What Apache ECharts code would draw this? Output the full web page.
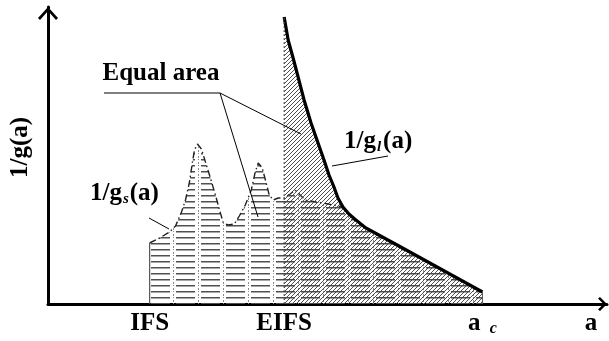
<!DOCTYPE html>
<html>
<head>
<meta charset="utf-8">
<script src="https://cdn.jsdelivr.net/npm/echarts@6/dist/echarts.min.js"></script>
<style>
  html, body { margin: 0; padding: 0; background: #fff; }
  #chart { width: 609px; height: 341px; }
</style>
</head>
<body>
<div id="chart"></div>
<script>
// crack size a (x) against 1/g(a) (y), arbitrary units
// short-crack curve 1/g_s(a), from IFS up to a_c
const smallCurve = [
  [102, 61], [112, 66], [122, 72], [128, 78], [134, 92], [138, 104], [142, 122],
  [145, 142], [147, 154], [150, 160], [154, 155], [158, 142], [163, 126], [168, 109],
  [173, 91], [176, 81], [181, 79], [187, 80], [192, 88], [198, 99], [204, 114],
  [208, 132], [211, 141], [215, 136], [219, 121], [222, 109], [226, 104], [231, 106],
  [237, 106], [243, 110], [248, 114], [253, 109], [258, 104], [269, 102], [281, 100],
  [296, 97], [302, 90], [309, 84], [319, 76], [354, 57], [436, 12]
];
// long-crack curve 1/g_l(a), from EIFS up to a_c
const largeCurve = [
  [237, 287], [241, 264], [246, 246], [251, 227], [257, 204], [264, 181], [271, 161],
  [277, 144], [282, 129], [287, 117], [291, 106], [296, 97], [302, 90], [309, 84],
  [319, 76], [354, 57], [436, 12]
];
const tickValues = [102, 237, 436, 545];
const tickLabels = ['IFS', 'EIFS', '{m|a} {c|c}', 'a'];

const FONT = '"Liberation Serif", "Times New Roman", serif';

function makeTile(w, h, draw) {
  const c = document.createElement('canvas');
  c.width = w;
  c.height = h;
  draw(c.getContext('2d'));
  return c;
}

// horizontal dashes with dash-dot verticals
const dashTile = makeTile(25, 6, (ctx) => {
  ctx.fillStyle = '#505050';
  ctx.fillRect(1, 3, 19, 1.5);
  ctx.fillStyle = '#8a8a8a';
  ctx.fillRect(23, 0, 1, 2);
  ctx.fillRect(23, 3, 1, 1);
});

// 45 degree hatching
const diagTile = makeTile(4, 4, (ctx) => {
  ctx.strokeStyle = '#3c3c3c';
  ctx.lineWidth = 0.9;
  ctx.beginPath();
  ctx.moveTo(-1, 5); ctx.lineTo(5, -1);
  ctx.moveTo(-1, 1); ctx.lineTo(1, -1);
  ctx.moveTo(3, 5); ctx.lineTo(5, 3);
  ctx.stroke();
});

const first = (arr) => arr[0];
const last = (arr) => arr[arr.length - 1];

const chart = echarts.init(document.getElementById('chart'));

const option = {
  animation: false,
  grid: { left: 46, right: 2, top: 7, bottom: 37 },
  xAxis: {
    type: 'value',
    min: 0,
    max: 561,
    splitLine: { show: false },
    axisTick: { show: false },
    axisLine: {
      show: true,
      lineStyle: { color: '#000', width: 3 },
      symbol: ['none', 'path://M0,7 L7,0 L14,7 L12.5,9 L7,3.5 L1.5,9 Z'],
      symbolSize: [14, 9],
      symbolOffset: [0, -4.5]
    },
    axisLabel: {
      customValues: tickValues,
      formatter: (v) => tickLabels[tickValues.indexOf(v)],
      color: '#000',
      fontFamily: FONT,
      fontSize: 25,
      fontWeight: 'bold',
      margin: 7,
      rich: {
        m: { fontFamily: FONT, fontSize: 25, fontWeight: 'bold', color: '#000' },
        c: {
          fontFamily: FONT, fontSize: 16, fontWeight: 'bold', fontStyle: 'italic',
          color: '#000', verticalAlign: 'bottom', padding: [10, 0, 0, 3]
        }
      }
    }
  },
  yAxis: {
    type: 'value',
    min: 0,
    max: 297,
    splitLine: { show: false },
    axisTick: { show: false },
    axisLabel: { show: false },
    axisLine: {
      show: true,
      lineStyle: { color: '#000', width: 3 },
      symbol: ['none', 'path://M0,11 L10,0 L20,11 L18,13 L10,4 L2,13 Z'],
      symbolSize: [20, 13],
      symbolOffset: [0, -6.5]
    },
    name: '1/g(a)',
    nameLocation: 'middle',
    nameRotate: 90,
    nameGap: 15,
    nameTextStyle: {
      color: '#000',
      fontFamily: FONT,
      fontSize: 25,
      fontWeight: 'bold',
      padding: [0, 0, 0, 16]
    }
  },
  series: [
    {
      name: '1/gs(a)',
      type: 'line',
      data: smallCurve,
      symbol: 'none',
      z: 2,
      lineStyle: { color: '#222', width: 1.4, type: [7, 3, 1.5, 3] },
      areaStyle: { color: { image: dashTile, repeat: 'repeat' }, opacity: 1 }
    },
    {
      name: '1/gl(a)',
      type: 'line',
      data: largeCurve,
      symbol: 'none',
      z: 3,
      lineStyle: { color: '#000', width: 3.2 },
      areaStyle: { color: { image: diagTile, repeat: 'repeat' }, opacity: 1 }
    },
    {
      name: 'IFS edge',
      type: 'line',
      data: [[first(smallCurve)[0], 0], first(smallCurve)],
      symbol: 'none',
      z: 4,
      lineStyle: { color: '#555', width: 1.2 }
    },
    {
      name: 'EIFS edge',
      type: 'line',
      data: [[first(largeCurve)[0], 0], first(largeCurve)],
      symbol: 'none',
      z: 4,
      lineStyle: { color: '#444', width: 1, type: [2, 2] }
    },
    {
      name: 'ac edge',
      type: 'line',
      data: [[last(largeCurve)[0], 0], last(largeCurve)],
      symbol: 'none',
      z: 4,
      lineStyle: { color: '#555', width: 1 }
    }
  ],
  graphic: [
    {
      type: 'polyline',
      z: 10,
      shape: { points: [[104, 93], [220, 93], [301, 134]] },
      style: { stroke: '#000', lineWidth: 1, fill: null }
    },
    {
      type: 'line',
      z: 10,
      shape: { x1: 220, y1: 93, x2: 258, y2: 217 },
      style: { stroke: '#000', lineWidth: 1 }
    },
    {
      type: 'line',
      z: 10,
      shape: { x1: 149, y1: 218, x2: 169, y2: 229 },
      style: { stroke: '#000', lineWidth: 1 }
    },
    {
      type: 'line',
      z: 10,
      shape: { x1: 332, y1: 166, x2: 388, y2: 156 },
      style: { stroke: '#000', lineWidth: 1 }
    },
    {
      type: 'text',
      z: 10,
      x: 161,
      y: 74,
      style: {
        text: 'Equal area',
        font: 'bold 25px ' + FONT,
        fill: '#000',
        align: 'center',
        verticalAlign: 'middle'
      }
    },
    {
      type: 'text',
      z: 10,
      x: 90,
      y: 194,
      style: {
        text: '{m|1/g}{s|s}{m|(a)}',
        fill: '#000',
        align: 'left',
        verticalAlign: 'middle',
        rich: {
          m: { font: 'bold 25px ' + FONT, fill: '#000' },
          s: { font: 'italic bold 15px ' + FONT, fill: '#000', verticalAlign: 'bottom', padding: [9, 1, 0, 1] }
        }
      }
    },
    {
      type: 'text',
      z: 10,
      x: 344,
      y: 142,
      style: {
        text: '{m|1/g}{s|l}{m|(a)}',
        fill: '#000',
        align: 'left',
        verticalAlign: 'middle',
        rich: {
          m: { font: 'bold 25px ' + FONT, fill: '#000' },
          s: { font: 'italic bold 15px ' + FONT, fill: '#000', verticalAlign: 'bottom', padding: [9, 2, 0, 1] }
        }
      }
    }
  ]
};

chart.setOption(option);
window.addEventListener('resize', () => chart.resize());
</script>
</body>
</html>
